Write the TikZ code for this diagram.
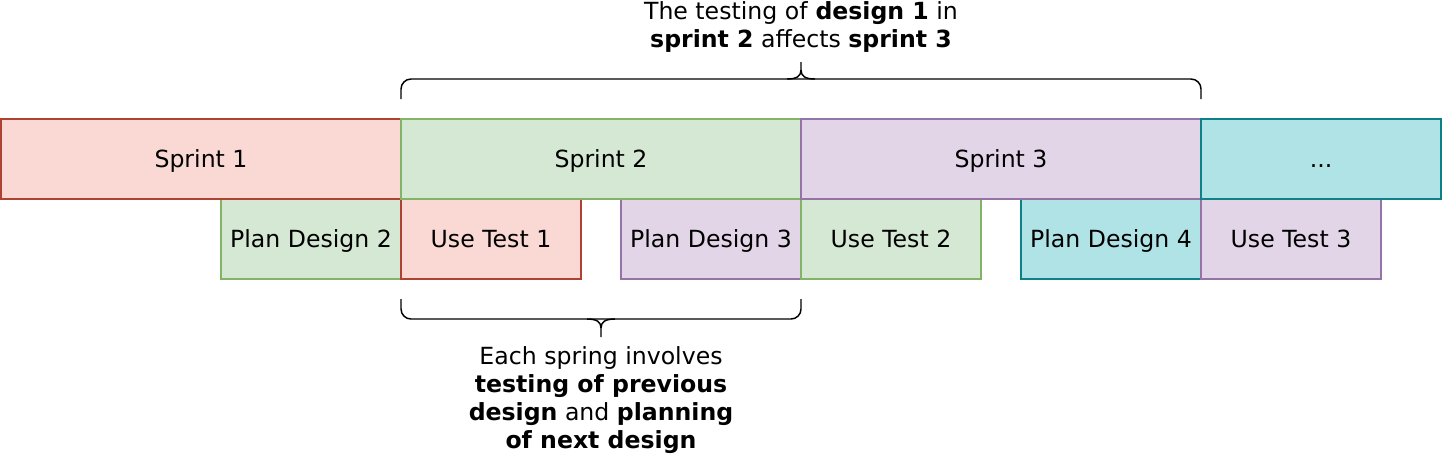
\documentclass[tikz,border=0pt]{standalone}
\usepackage{fontspec}
\setmainfont{DejaVu Sans}
\usepackage{tikz}
\usetikzlibrary{positioning}

\definecolor{redfill}{HTML}{FAD9D5}
\definecolor{redline}{HTML}{AE4132}
\definecolor{greenfill}{HTML}{D5E8D4}
\definecolor{greenline}{HTML}{82B366}
\definecolor{purplefill}{HTML}{E1D5E7}
\definecolor{purpleline}{HTML}{9673A6}
\definecolor{tealfill}{HTML}{B0E3E6}
\definecolor{tealline}{HTML}{0E8088}

\begin{document}
\begin{tikzpicture}[x=0.75pt, y=-0.75pt, line width=1.1pt]

\tikzset{sprintbox/.style = {shape=rectangle,minimum width=300pt,minimum height=60pt,inner sep=0pt,text height=14.5pt,text depth=2.5pt}}
\tikzset{taskbox/.style = {shape=rectangle,minimum width=135pt,minimum height=60pt,inner sep=0pt,text height=14.5pt,text depth=2.5pt}}
\tikzset{redbox/.style = {fill=redfill,draw=redline}}
\tikzset{greenbox/.style = {fill=greenfill,draw=greenline}}
\tikzset{purplebox/.style = {fill=purplefill,draw=purpleline}}
\tikzset{tealbox/.style = {fill=tealfill,draw=tealline}}
\tikzset{every node/.style = {font=\fontsize{17.7pt}{21pt}\selectfont}}

\path[use as bounding box,fill=white] (0,0) rectangle (1442,462);

% tasks
\node[taskbox,greenbox] (plan2) at (311,239) {Plan Design 2};
\node[taskbox,redbox] (test1) at (491,239) {Use Test 1};
\node[taskbox,purplebox] (plan3) at (711,239) {Plan Design 3};
\node[taskbox,greenbox] (test2) at (891,239) {Use Test 2};
\node[taskbox,tealbox] (plan4) at (1111,239) {Plan Design 4};
\node[taskbox,purplebox] (test3) at (1291,239) {Use Test 3};

% sprints
\node[sprintbox,redbox] (s1) at (201,159) {Sprint 1};
\node[sprintbox,greenbox] (s2) at (601,159) {Sprint 2};
\node[sprintbox,purplebox] (s3) at (1001,159) {Sprint 3};
\node[sprintbox,tealbox,minimum width=180pt] (more) at (1321,159) {...};

% braces
\draw[rounded corners=7.5pt] (401,99) -- (401,79) -- (1201,79) -- (1201,99);
\draw (787,79) .. controls (797,79) and (801,76) .. (801,70) -- (801,62);
\draw (815,79) .. controls (805,79) and (801,76) .. (801,70);

\draw[rounded corners=7.5pt] (401,299) -- (401,319) -- (801,319) -- (801,299);
\draw (587,319) .. controls (597,319) and (601,322) .. (601,328) -- (601,337);
\draw (615,319) .. controls (605,319) and (601,322) .. (601,328);

% notes
\node[align=center,inner sep=0pt] (topnote) at (801,27)
  {The testing of \textbf{design 1} in\\\textbf{sprint 2} affects \textbf{sprint 3}};
\node[align=center,inner sep=0pt] (bottomnote) at (601,400)
  {Each spring involves\\\textbf{testing of previous}\\\textbf{design} and \textbf{planning}\\\textbf{of next design}};

\end{tikzpicture}
\end{document}
